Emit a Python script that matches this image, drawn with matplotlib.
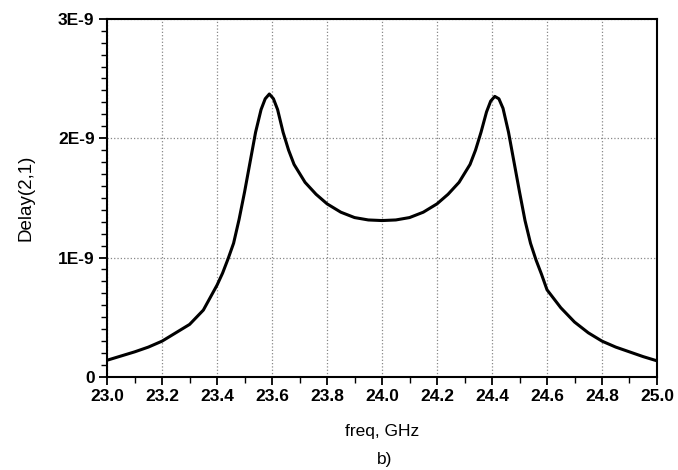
import matplotlib.pyplot as plt
from matplotlib.ticker import MultipleLocator, FixedLocator, FixedFormatter

# frequency (GHz) and group delay (ns)
freq = [23.00, 23.05, 23.10, 23.15, 23.20, 23.25, 23.30, 23.35, 23.40, 23.42,
        23.44, 23.46, 23.48, 23.50, 23.52, 23.54, 23.56, 23.575, 23.59, 23.605,
        23.62, 23.64, 23.66, 23.68, 23.72, 23.76, 23.80, 23.85, 23.90, 23.95,
        24.00, 24.05, 24.10, 24.15, 24.20, 24.24, 24.28, 24.32, 24.34, 24.36,
        24.38, 24.395, 24.41, 24.425, 24.44, 24.46, 24.48, 24.50, 24.52, 24.54,
        24.56, 24.58, 24.60, 24.65, 24.70, 24.75, 24.80, 24.85, 24.90, 24.95,
        25.00]
delayNs = [0.14, 0.175, 0.21, 0.25, 0.30, 0.37, 0.44, 0.56, 0.77, 0.87,
           0.99, 1.12, 1.32, 1.55, 1.80, 2.05, 2.24, 2.33, 2.37, 2.33,
           2.24, 2.05, 1.90, 1.78, 1.63, 1.53, 1.45, 1.38, 1.335, 1.315,
           1.31, 1.315, 1.335, 1.38, 1.45, 1.53, 1.63, 1.78, 1.90, 2.05,
           2.22, 2.31, 2.35, 2.33, 2.25, 2.05, 1.80, 1.55, 1.31, 1.12,
           0.98, 0.86, 0.73, 0.58, 0.46, 0.37, 0.30, 0.25, 0.21, 0.17,
           0.135]

xTicks = [23.0, 23.2, 23.4, 23.6, 23.8, 24.0, 24.2, 24.4, 24.6, 24.8, 25.0]
yTicks = [0, 1e-9, 2e-9, 3e-9]
yTickLabels = ["0", "1E-9", "2E-9", "3E-9"]

delay = [d * 1e-9 for d in delayNs]

fig = plt.figure(figsize=(6.78, 4.70), dpi=100)
ax = fig.add_axes([0.158, 0.198, 0.811, 0.762])

ax.plot(freq, delay, color="black", linewidth=2.2)

ax.set_xlim(23.0, 25.0)
ax.set_ylim(0, 3e-9)

ax.xaxis.set_major_locator(FixedLocator(xTicks))
ax.xaxis.set_minor_locator(MultipleLocator(0.1))
ax.set_xticklabels([f"{t:.1f}" for t in xTicks])
ax.yaxis.set_major_locator(FixedLocator(yTicks))
ax.yaxis.set_major_formatter(FixedFormatter(yTickLabels))
ax.yaxis.set_minor_locator(MultipleLocator(0.1e-9))

ax.grid(True, which="major", color="#888888", linestyle=":", linewidth=0.9)

ax.tick_params(which="major", direction="out", length=6, width=1.3, pad=3)
ax.tick_params(which="minor", direction="out", length=4, width=1.0)
for label in ax.get_xticklabels() + ax.get_yticklabels():
    label.set_fontfamily("Liberation Sans")
    label.set_fontweight("bold")
    label.set_fontsize(12.5)

for spine in ax.spines.values():
    spine.set_linewidth(1.5)
    spine.set_color("black")

ax.set_xlabel("freq, GHz", fontfamily="Liberation Sans", fontsize=12.5, labelpad=14)
ax.set_ylabel("Delay(2,1)", fontfamily="Liberation Sans", fontsize=13.5, labelpad=17)

fig.text(0.568, 0.012, "b)", fontfamily="Liberation Sans", fontsize=12.5, ha="center")

plt.savefig("out.png", dpi=100)
plt.close()
